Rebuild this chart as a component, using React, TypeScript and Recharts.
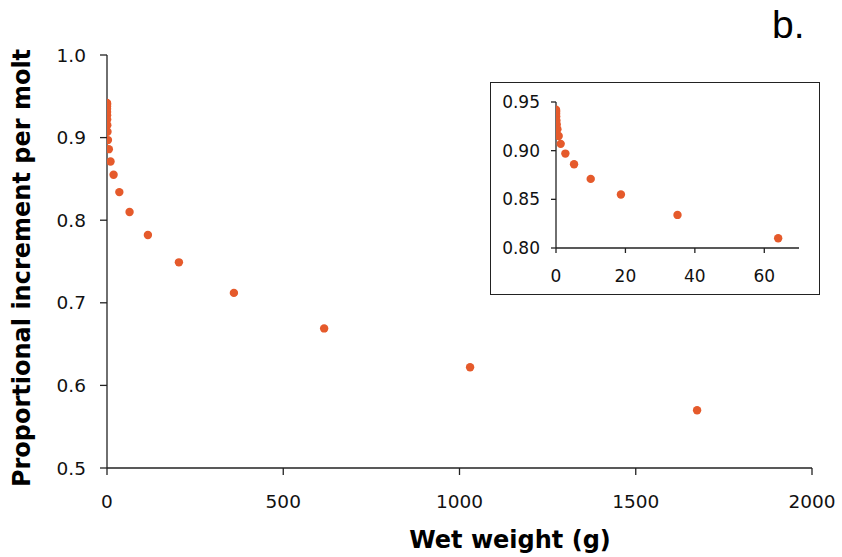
import React from "react";
import { ScatterChart, Scatter, XAxis, YAxis } from "recharts";

// Wet weight (g) and proportional increment per molt
const wetWeight = [0.004, 0.008, 0.015, 0.03, 0.057, 0.11, 0.21, 0.4, 0.77, 1.35, 2.7, 5.2, 10.0, 18.7, 35, 64, 116, 204, 360, 616, 1030, 1674];
const increment = [0.942, 0.941, 0.94, 0.938, 0.935, 0.931, 0.927, 0.922, 0.915, 0.907, 0.897, 0.886, 0.871, 0.855, 0.834, 0.81, 0.782, 0.749, 0.712, 0.669, 0.622, 0.57];

const mainXTicks = [0, 500, 1000, 1500, 2000];
const mainYTicks = [0.5, 0.6, 0.7, 0.8, 0.9, 1.0];
const insetXTicks = [0, 20, 40, 60];
const insetYTicks = [0.8, 0.85, 0.9, 0.95];

const xLabel = "Wet weight (g)";
const yLabel = "Proportional increment per molt";
const panelLabel = "b.";

const allPoints = wetWeight.map((w, i) => ({ x: w, y: increment[i] }));
const insetPoints = allPoints.filter((p) => p.x <= 70);

const DOT = "#E55A2B";
const AXIS = "#222";
const FONT = "'DejaVu Sans', Verdana, sans-serif";

const Dot = (props: any) => {
  const { cx, cy } = props;
  if (cx == null || cy == null) return null;
  return <circle cx={cx} cy={cy} r={4.2} fill={DOT} />;
};

export default function App() {
  return (
    <div style={{ position: "absolute", left: 0, top: 0, width: 842, height: 557, background: "#fff" }}>
      <ScatterChart width={842} height={557} margin={{ top: 55, right: 30, bottom: 0, left: 0 }}>
        <XAxis
          type="number"
          dataKey="x"
          domain={[0, 2000]}
          ticks={mainXTicks}
          height={89}
          tickSize={7}
          tickMargin={20}
          stroke={AXIS}
          strokeWidth={1.3}
          tick={{ fill: "#111", fontSize: 18.5, fontFamily: FONT }}
          allowDataOverflow
        />
        <YAxis
          type="number"
          dataKey="y"
          domain={[0.5, 1.0]}
          ticks={mainYTicks}
          width={107}
          tickSize={7}
          tickMargin={14}
          stroke={AXIS}
          strokeWidth={1.3}
          tickFormatter={(v: number) => v.toFixed(1)}
          tick={{ fill: "#111", fontSize: 18.5, fontFamily: FONT }}
          allowDataOverflow
        />
        <Scatter data={allPoints} shape={<Dot />} isAnimationActive={false} />
      </ScatterChart>

      <svg width={842} height={557} style={{ position: "absolute", left: 0, top: 0, pointerEvents: "none" }}>
        <text x={510} y={548} textAnchor="middle" fontFamily={FONT} fontWeight="bold" fontSize={24} fill="#000">
          {xLabel}
        </text>
        <text
          x={30}
          y={268}
          textAnchor="middle"
          fontFamily={FONT}
          fontWeight="bold"
          fontSize={24}
          fill="#000"
          transform="rotate(-90, 30, 268)"
        >
          {yLabel}
        </text>
        <text x={772} y={38} fontFamily="'Liberation Sans', Arial, sans-serif" fontSize={39} fill="#000">
          {panelLabel}
        </text>
      </svg>

      <div
        style={{
          position: "absolute",
          left: 490,
          top: 82,
          width: 330,
          height: 213,
          boxSizing: "border-box",
          border: "1.3px solid #222",
          background: "#fff",
        }}
      >
        <ScatterChart width={328} height={211} margin={{ top: 19, right: 20, bottom: 0, left: 0 }}>
          <XAxis
            type="number"
            dataKey="x"
            domain={[0, 70]}
            ticks={insetXTicks}
            height={46}
            tickSize={5}
            tickMargin={17}
            stroke={AXIS}
            strokeWidth={1.3}
            tick={{ fill: "#111", fontSize: 17, fontFamily: FONT }}
            allowDataOverflow
          />
          <YAxis
            type="number"
            dataKey="y"
            domain={[0.8, 0.95]}
            ticks={insetYTicks}
            width={65}
            tickSize={5}
            tickMargin={11}
            stroke={AXIS}
            strokeWidth={1.3}
            tickFormatter={(v: number) => v.toFixed(2)}
            tick={{ fill: "#111", fontSize: 17, fontFamily: FONT }}
            allowDataOverflow
          />
          <Scatter data={insetPoints} shape={<Dot />} isAnimationActive={false} />
        </ScatterChart>
      </div>
    </div>
  );
}
